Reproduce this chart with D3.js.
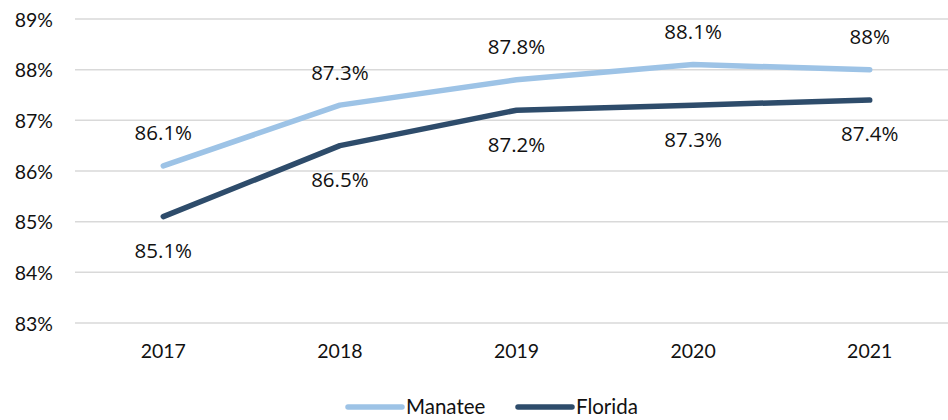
<!DOCTYPE html>
<html>
<head>
<meta charset="utf-8">
<script src="https://cdn.jsdelivr.net/npm/d3@7"></script>
<style>
  html, body { margin: 0; padding: 0; background: #fff; }
  svg { display: block; }
</style>
</head>
<body>
<svg id="chart" width="948" height="420"></svg>
<script>
// Graduation rate by year, Manatee County vs. Florida statewide
const years = ["2017", "2018", "2019", "2020", "2021"];
const manatee = [86.1, 87.3, 87.8, 88.1, 88.0];
const florida = [85.1, 86.5, 87.2, 87.3, 87.4];
const manateeLabels = ["86.1%", "87.3%", "87.8%", "88.1%", "88%"];
const floridaLabels = ["85.1%", "86.5%", "87.2%", "87.3%", "87.4%"];
const yTicks = [83, 84, 85, 86, 87, 88, 89];

const series = [
  { name: "Manatee", values: manatee, labels: manateeLabels, color: "#9dc3e6", dy: -33 },
  { name: "Florida", values: florida, labels: floridaLabels, color: "#2e4c6b", dy: 34 }
];

const svg = d3.select("#chart");
const axisFont = "Lato, 'Open Sans', sans-serif";
const labelFont = "'Open Sans', 'Noto Sans', sans-serif";

const x = d3.scaleBand().domain(years).range([75, 958]);
const y = d3.scaleLinear().domain([83, 89]).range([323, 19]);

// horizontal gridlines
svg.append("g")
  .selectAll("line")
  .data(yTicks)
  .join("line")
  .attr("x1", 75).attr("x2", 948)
  .attr("y1", d => y(d)).attr("y2", d => y(d))
  .attr("stroke", "#d9d9d9")
  .attr("stroke-width", 1.5);

// y-axis tick labels
const yAxis = d3.axisLeft(y).tickValues(yTicks).tickFormat(d => d + "%").tickSize(0).tickPadding(0);
const gy = svg.append("g").attr("transform", "translate(53,0)").call(yAxis);
gy.select(".domain").remove();
gy.selectAll("text")
  .attr("font-family", axisFont).attr("font-size", 19.5).attr("fill", "#111")
  .attr("dy", "0.36em");

// x-axis category labels
const xAxis = d3.axisBottom(x).tickSize(0).tickPadding(0);
const gx = svg.append("g").attr("transform", "translate(0,344)").call(xAxis);
gx.select(".domain").remove();
gx.selectAll("text")
  .attr("font-family", axisFont).attr("font-size", 19.5).attr("fill", "#111")
  .attr("dy", "0.7em");

const cx = d => x(d) + x.bandwidth() / 2;
const line = d3.line().x(d => cx(d.year)).y(d => y(d.value));

series.forEach(s => {
  const pts = years.map((yr, i) => ({ year: yr, value: s.values[i], label: s.labels[i] }));
  svg.append("path")
    .datum(pts)
    .attr("d", line)
    .attr("fill", "none")
    .attr("stroke", s.color)
    .attr("stroke-width", 5.5)
    .attr("stroke-linecap", "round")
    .attr("stroke-linejoin", "round");

  svg.append("g")
    .selectAll("text")
    .data(pts)
    .join("text")
    .attr("x", d => cx(d.year))
    .attr("y", d => y(d.value) + s.dy)
    .attr("dy", "0.36em")
    .attr("text-anchor", "middle")
    .attr("font-family", labelFont)
    .attr("font-size", 20.5)
    .attr("fill", "#111")
    .text(d => d.label);
});

// legend
const legend = svg.append("g");
const legendItems = [
  { s: series[0], x0: 348 },
  { s: series[1], x0: 518 }
];
legendItems.forEach(({ s, x0 }) => {
  legend.append("line")
    .attr("x1", x0).attr("x2", x0 + 54)
    .attr("y1", 407).attr("y2", 407)
    .attr("stroke", s.color).attr("stroke-width", 5.5)
    .attr("stroke-linecap", "round");
  legend.append("text")
    .attr("x", x0 + 58).attr("y", 407)
    .attr("dy", "0.36em")
    .attr("font-family", axisFont).attr("font-size", 20.5).attr("fill", "#111")
    .text(s.name);
});
</script>
</body>
</html>
